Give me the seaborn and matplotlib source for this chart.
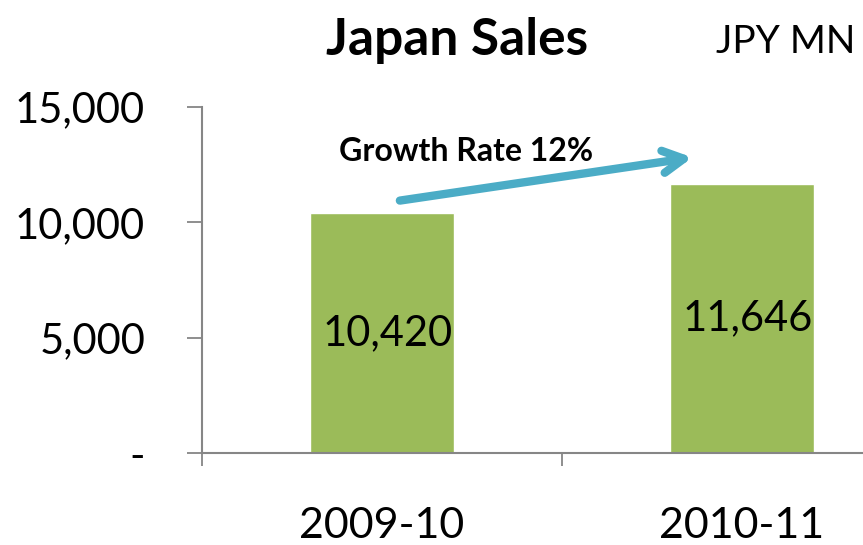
import matplotlib
matplotlib.use("Agg")
import matplotlib.pyplot as plt
import seaborn as sns
import pandas as pd
from matplotlib.ticker import FuncFormatter, FixedLocator

# Data
years = ["2009-10", "2010-11"]
sales = [10420, 11646]
growth_label = "Growth Rate 12%"
y_ticks = [0, 5000, 10000, 15000]

sns.set_style("white")
plt.rcParams["font.family"] = ["Lato", "DejaVu Sans"]

bar_color = "#9BBB59"
axis_color = "#868686"
arrow_color = "#4BACC6"

df = pd.DataFrame({"year": years, "sales": sales})

fig = plt.figure(figsize=(8.63, 5.45), dpi=100)
ax = fig.add_axes([202 / 863, 92 / 545, 720 / 863, 346 / 545])

sns.barplot(data=df, x="year", y="sales", color=bar_color, width=0.4,
            saturation=1, ax=ax)

ax.set_xlim(-0.5, 1.5)
ax.set_ylim(0, 15000)
ax.set_xlabel("")
ax.set_ylabel("")

# Y axis: Excel-style accounting format, zero shown as a dash
ax.yaxis.set_major_locator(FixedLocator(y_ticks))
ax.yaxis.set_major_formatter(
    FuncFormatter(lambda v, p: "-" if v == 0 else f"{int(v):,}"))
ax.tick_params(axis="y", direction="out", length=11, width=1.3,
               color=axis_color, labelsize=30, labelcolor="black",
               pad=30, left=True)

# X axis: tick marks between categories, labels under categories
ax.xaxis.set_minor_locator(FixedLocator([-0.5, 0.5, 1.5]))
ax.tick_params(axis="x", which="major", length=0, labelsize=31,
               labelcolor="black", pad=39)
ax.tick_params(axis="x", which="minor", direction="out", length=9,
               width=1.3, color=axis_color, bottom=True)

for side in ["top", "right"]:
    ax.spines[side].set_visible(False)
for side in ["left", "bottom"]:
    ax.spines[side].set_color(axis_color)
    ax.spines[side].set_linewidth(1.5)

# Value labels centred inside bars
for i, v in enumerate(sales):
    ax.text(i + 0.015, v / 2, f"{v:,}", ha="center", va="center",
            fontsize=30, color="black")

# Growth arrow between bars
ax.annotate("", xy=(0.87, 12830), xytext=(0.042, 10925),
            arrowprops=dict(arrowstyle="->,head_length=1.5,head_width=0.8",
                            color=arrow_color, lw=6,
                            capstyle="round", joinstyle="round"))
ax.text(0.233, 13080, growth_label, ha="center", va="center",
        fontsize=23, fontweight="bold", color="black")

fig.text(457 / 863, 1 - 40 / 545, "Japan Sales", ha="center", va="center",
         fontsize=37, fontweight="bold", color="black")
fig.text(786 / 863, 1 - 42 / 545, "JPY MN", ha="center", va="center",
         fontsize=28, color="black")

fig.savefig("out.png", dpi=100)
